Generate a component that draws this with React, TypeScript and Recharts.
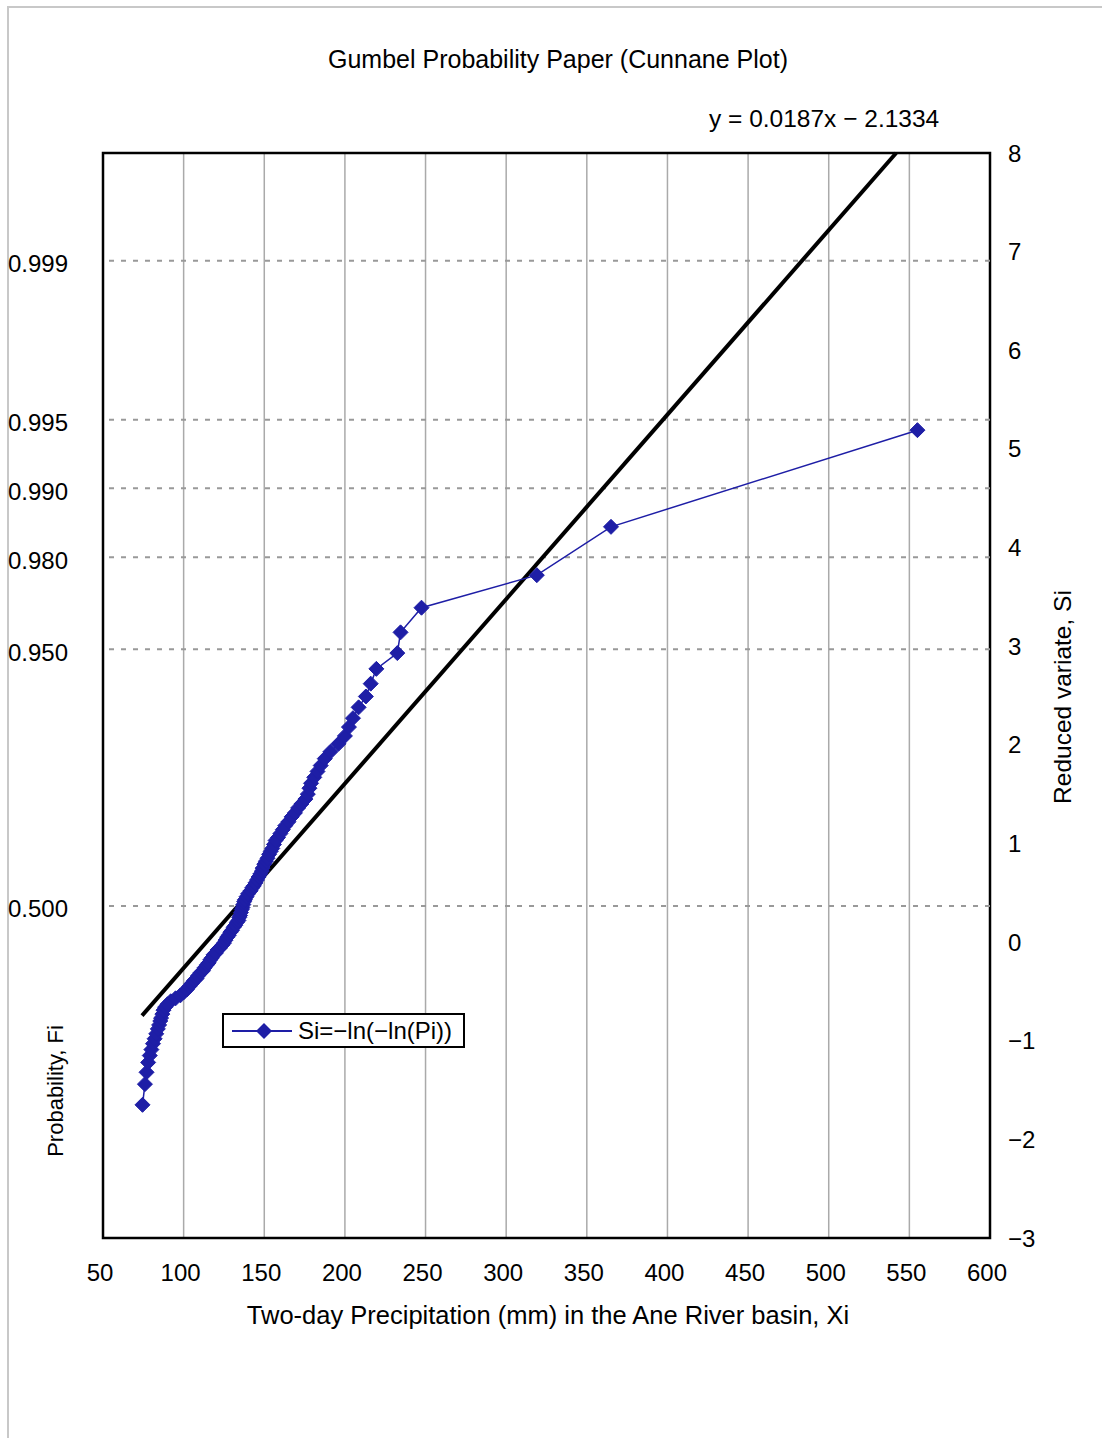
import React from "react";
import {
  ComposedChart,
  Line,
  XAxis,
  YAxis,
  CartesianGrid,
  ReferenceLine,
  ReferenceArea,
  Legend,
} from "recharts";

// two-day precipitation (mm), sorted, one per year
const precipX = [
  74.5, 76, 77, 78, 79, 80, 81, 82, 83, 84,
  84.8, 85.5, 86, 86.8, 87.5, 88.5, 90, 92, 95, 98,
  100, 102, 103.5, 105, 106.5, 108, 109, 110.5, 112, 113,
  114.5, 115.5, 116.5, 117.5, 118.5, 120, 121, 122.5, 124, 125,
  126, 127, 128, 129, 130, 131, 132, 133, 134, 134.5,
  135, 135.5, 136, 136.5, 137, 137.5, 138, 139, 140, 141.5,
  142.5, 143.5, 144.5, 145.5, 146.5, 147.5, 148.5, 149, 150, 151,
  152, 153, 154, 155, 156, 157, 158.5, 160, 161.5, 163,
  165, 167, 169, 171, 173, 175.5, 177, 178, 179, 181,
  183, 185, 187.5, 191, 196, 200, 202.5, 205, 208.5, 213,
  216, 219.5, 232.5, 234.5, 247.5, 319, 365, 555,
];

// reduced variate Si = -ln(-ln(Pi))
const reducedSi = [
  -1.65, -1.44, -1.32, -1.22, -1.15, -1.09, -1.03, -0.98, -0.93, -0.88,
  -0.84, -0.8, -0.77, -0.73, -0.69, -0.66, -0.63, -0.6, -0.57, -0.54,
  -0.51, -0.48, -0.45, -0.42, -0.39, -0.37, -0.34, -0.31, -0.29, -0.26,
  -0.23, -0.21, -0.18, -0.16, -0.13, -0.11, -0.08, -0.06, -0.03, -0.01,
  0.02, 0.05, 0.07, 0.1, 0.12, 0.15, 0.17, 0.2, 0.22, 0.25,
  0.27, 0.3, 0.33, 0.35, 0.38, 0.41, 0.43, 0.46, 0.49, 0.52,
  0.55, 0.57, 0.6, 0.63, 0.66, 0.69, 0.72, 0.75, 0.79, 0.82,
  0.85, 0.89, 0.92, 0.95, 0.99, 1.03, 1.06, 1.1, 1.14, 1.18,
  1.22, 1.27, 1.31, 1.36, 1.4, 1.45, 1.5, 1.56, 1.61, 1.67,
  1.73, 1.79, 1.86, 1.93, 2.01, 2.09, 2.18, 2.27, 2.38, 2.49,
  2.62, 2.77, 2.93, 3.14, 3.39, 3.72, 4.21, 5.19,
];

// fitted line y = 0.0187x - 2.1334, end points
const trendX = [74.2, 541.8];
const trendY = [-0.746, 8.0];

const xTicks = [50, 100, 150, 200, 250, 300, 350, 400, 450, 500, 550, 600];
const xMinorTicks = [
  50, 75, 100, 125, 150, 175, 200, 225, 250, 275, 300, 325,
  350, 375, 400, 425, 450, 475, 500, 525, 550, 575, 600,
];
const siTicks = [-3, -2, -1, 0, 1, 2, 3, 4, 5, 6, 7, 8];
const probTicks = [0.367, 2.97, 3.902, 4.6, 5.296, 6.907];
const probLabels = ["0.500", "0.950", "0.980", "0.990", "0.995", "0.999"];

const points = precipX.map((x, i) => ({ x, y: reducedSi[i] }));
const trend = trendX.map((x, i) => ({ x, y: trendY[i] }));

const BLUE = "#1e1ea6";
const FONT = "'Liberation Sans', Arial, sans-serif";

const Diamond = (props: any) => {
  const { cx, cy, index } = props;
  if (cx == null || cy == null) return null;
  const r = 7.5;
  return (
    <polygon
      key={`d-${index}`}
      points={`${cx},${cy - r} ${cx + r},${cy} ${cx},${cy + r} ${cx - r},${cy}`}
      fill={BLUE}
      stroke={BLUE}
      strokeWidth={1}
    />
  );
};

const LegendBox = () => (
  <div
    style={{
      boxSizing: "border-box",
      width: 243,
      height: 35,
      border: "2px solid #000",
      background: "#fff",
      display: "flex",
      alignItems: "center",
      fontFamily: FONT,
      fontSize: 24,
      color: "#000",
    }}
  >
    <svg width={74} height={20}>
      <line x1={8} x2={68} y1={10} y2={10} stroke={BLUE} strokeWidth={2} />
      <polygon points="40,2 48,10 40,18 32,10" fill={BLUE} />
    </svg>
    <span>Si=−ln(−ln(Pi))</span>
  </div>
);

const abs = (extra: React.CSSProperties): React.CSSProperties => ({
  position: "absolute",
  whiteSpace: "nowrap",
  lineHeight: 1,
  fontFamily: FONT,
  color: "#000",
  ...extra,
});

export default function App() {
  const minus = (v: number) => String(v).replace("-", "−");

  return (
    <div
      style={{
        position: "absolute",
        left: 0,
        top: 0,
        width: 1102,
        height: 1438,
        overflow: "hidden",
        background: "#fff",
        fontFamily: FONT,
      }}
    >
      <div
        style={{
          position: "absolute",
          left: 7,
          top: 6,
          width: 1200,
          height: 1500,
          borderLeft: "2px solid #c8c8c8",
          borderTop: "2px solid #c8c8c8",
        }}
      />
      <ComposedChart
        width={1102}
        height={1438}
        margin={{ top: 153, right: 52, left: 0, bottom: 140 }}
        style={{ position: "absolute", left: 0, top: 0 }}
      >
        <CartesianGrid
          xAxisId="main"
          yAxisId="right"
          horizontal={false}
          vertical
          stroke="#aaaaaa"
          strokeWidth={1.5}
        />
        <XAxis
          xAxisId="minor"
          type="number"
          dataKey="x"
          domain={[50, 600]}
          ticks={xMinorTicks}
          interval={0}
          mirror
          height={0}
          tick={false}
          tickSize={6}
          tickLine={{ stroke: "#000", strokeWidth: 2 }}
          axisLine={false}
        />
        <XAxis
          xAxisId="main"
          type="number"
          dataKey="x"
          domain={[50, 600]}
          ticks={xTicks}
          interval={0}
          height={60}
          tickLine={false}
          tickSize={0}
          tickMargin={26}
          axisLine={false}
          tick={{ fontSize: 24, fill: "#000", dx: -3 }}
        />
        <YAxis
          yAxisId="left"
          type="number"
          domain={[-3, 8]}
          ticks={probTicks}
          interval={0}
          width={103}
          tickLine={false}
          tickSize={0}
          tickMargin={35}
          axisLine={false}
          tickFormatter={(v: number) => probLabels[probTicks.indexOf(v)] ?? ""}
          tick={{ fontSize: 24, fill: "#000", dy: 3 }}
        />
        <YAxis
          yAxisId="rightTicks"
          orientation="right"
          type="number"
          domain={[-3, 8]}
          ticks={siTicks}
          interval={0}
          mirror
          width={0}
          tick={false}
          tickSize={6}
          tickLine={{ stroke: "#000", strokeWidth: 2 }}
          axisLine={false}
        />
        <YAxis
          yAxisId="right"
          orientation="right"
          type="number"
          domain={[-3, 8]}
          ticks={siTicks}
          interval={0}
          width={60}
          tickLine={false}
          tickSize={0}
          tickMargin={18}
          axisLine={false}
          tickFormatter={minus}
          tick={{ fontSize: 24, fill: "#000" }}
        />
        {probTicks.map((v) => (
          <ReferenceLine
            key={v}
            xAxisId="main"
            yAxisId="right"
            y={v}
            stroke="#999999"
            strokeWidth={2}
            strokeDasharray="5 7"
          />
        ))}
        <ReferenceArea
          xAxisId="main"
          yAxisId="right"
          x1={50}
          x2={600}
          y1={-3}
          y2={8}
          fill="none"
          fillOpacity={0}
          stroke="#000"
          strokeWidth={2.5}
        />
        {/* invisible series so the tick-only axes get a domain */}
        <Line
          xAxisId="minor"
          yAxisId="left"
          data={trend}
          dataKey="y"
          stroke="none"
          dot={false}
          activeDot={false}
          legendType="none"
          isAnimationActive={false}
        />
        <Line
          xAxisId="main"
          yAxisId="rightTicks"
          data={trend}
          dataKey="y"
          stroke="none"
          dot={false}
          activeDot={false}
          legendType="none"
          isAnimationActive={false}
        />
        <Line
          xAxisId="main"
          yAxisId="right"
          data={trend}
          dataKey="y"
          type="linear"
          stroke="#000"
          strokeWidth={4}
          dot={false}
          activeDot={false}
          legendType="none"
          isAnimationActive={false}
        />
        <Line
          xAxisId="main"
          yAxisId="right"
          data={points}
          dataKey="y"
          name="Si=−ln(−ln(Pi))"
          type="linear"
          stroke={BLUE}
          strokeWidth={1.5}
          dot={Diamond}
          activeDot={false}
          isAnimationActive={false}
        />
        <Legend
          layout="vertical"
          align="center"
          verticalAlign="middle"
          content={<LegendBox />}
          wrapperStyle={{ left: 222, top: 1013, width: 243, bottom: "auto", right: "auto" }}
        />
      </ComposedChart>

      <div style={abs({ left: 558, top: 47, fontSize: 25, transform: "translateX(-50%)" })}>
        Gumbel Probability Paper (Cunnane Plot)
      </div>
      <div style={abs({ left: 709, top: 107, fontSize: 24.5 })}>y = 0.0187x − 2.1334</div>
      <div style={abs({ left: 548, top: 1303, fontSize: 25.5, transform: "translateX(-50%)" })}>
        Two-day Precipitation (mm) in the Ane River basin, Xi
      </div>
      <div
        style={abs({
          left: 56,
          top: 1091,
          fontSize: 22,
          transform: "translate(-50%, -50%) rotate(-90deg)",
        })}
      >
        Probability, Fi
      </div>
      <div
        style={abs({
          left: 1063,
          top: 697,
          fontSize: 24.5,
          transform: "translate(-50%, -50%) rotate(-90deg)",
        })}
      >
        Reduced variate, Si
      </div>
    </div>
  );
}
